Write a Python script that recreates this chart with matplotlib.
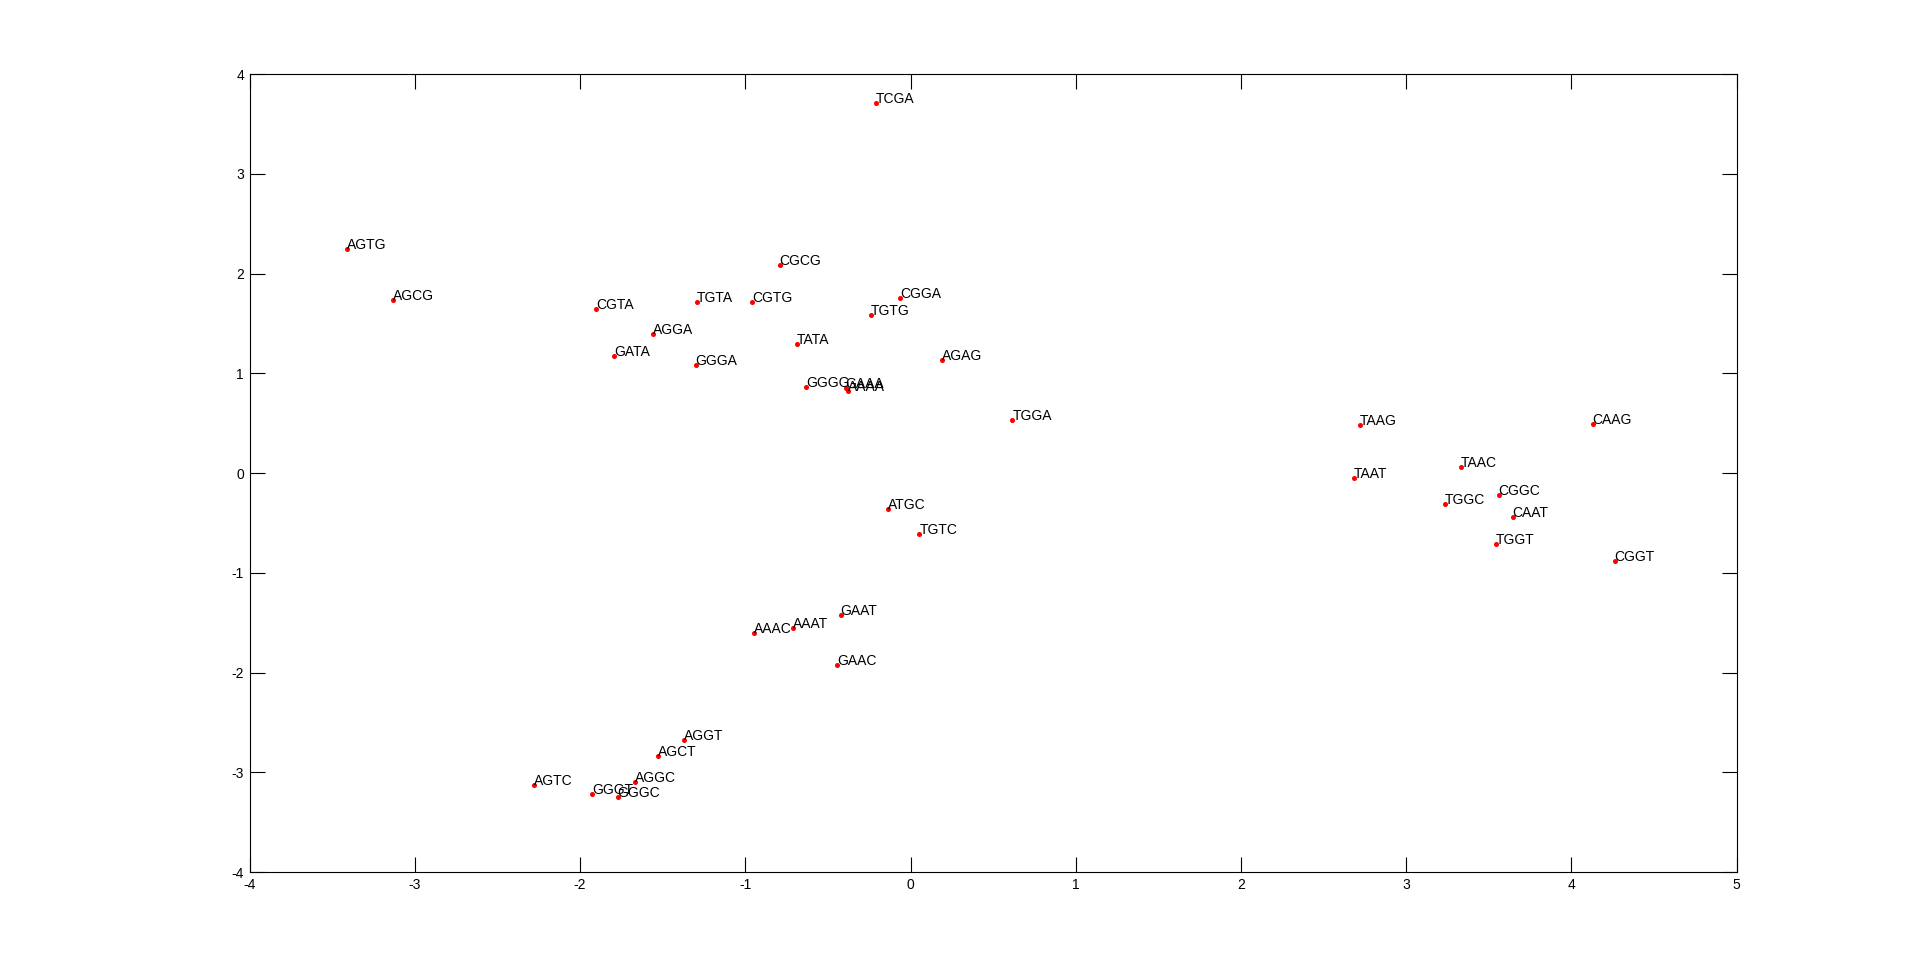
import numpy as np
import matplotlib
matplotlib.use('Agg')
import matplotlib.pyplot as plt

# point labels and 2-D coordinates
labels = ['TCGA', 'AGTG', 'AGCG', 'CGTA', 'TGTA', 'CGTG', 'CGCG', 'AGGA', 'GATA',
          'GGGA', 'TATA', 'TGTG', 'CGGA', 'GGGG', 'GAAA', 'AAAA', 'AGAG', 'TGGA',
          'ATGC', 'TGTC', 'GAAT', 'AAAT', 'AAAC', 'GAAC', 'AGGT', 'AGCT', 'AGGC',
          'AGTC', 'GGGT', 'GGGC', 'TAAG', 'CAAG', 'TAAC', 'TAAT', 'TGGC', 'CGGC',
          'CAAT', 'TGGT', 'CGGT']
xs = [-0.211, -3.411, -3.130, -1.904, -1.294, -0.957, -0.792, -1.556, -1.796,
      -1.300, -0.689, -0.241, -0.065, -0.630, -0.392, -0.381, 0.188, 0.617,
      -0.139, 0.054, -0.423, -0.712, -0.950, -0.442, -1.373, -1.531, -1.669,
      -2.280, -1.928, -1.773, 2.718, 4.128, 3.329, 2.682, 3.232, 3.559,
      3.644, 3.541, 4.262]
ys = [3.716, 2.244, 1.734, 1.644, 1.714, 1.714, 2.084, 1.393, 1.173,
      1.083, 1.293, 1.583, 1.754, 0.862, 0.852, 0.819, 1.130, 0.538,
      -0.358, -0.612, -1.424, -1.551, -1.607, -1.918, -2.670, -2.840, -3.091,
      -3.121, -3.221, -3.251, 0.481, 0.491, 0.067, -0.053, -0.304, -0.214,
      -0.441, -0.705, -0.882]

xticks = np.arange(-4, 6)
yticks = np.arange(-4, 5)

plt.rcParams['font.family'] = ['Liberation Sans', 'DejaVu Sans']
plt.rcParams['axes.unicode_minus'] = False

fig = plt.figure(figsize=(19.2, 9.8), dpi=100, facecolor='white')
ax = fig.add_axes([0.13, 0.11, 0.7745, 0.8143])

ax.plot(xs, ys, linestyle='none', marker='o', color='red', markersize=2.6)
for lab, x, y in zip(labels, xs, ys):
    ax.text(x, y, lab, fontsize=10, ha='left', va='baseline', color='black')

ax.set_xlim(-4, 5)
ax.set_ylim(-4, 4)
ax.set_xticks(xticks)
ax.set_yticks(yticks)
ax.tick_params(direction='in', length=10.8, width=0.8, top=True, right=True,
               labelsize=10, pad=4)
for s in ax.spines.values():
    s.set_linewidth(0.8)

fig.savefig('out.png', dpi=100, facecolor='white')
